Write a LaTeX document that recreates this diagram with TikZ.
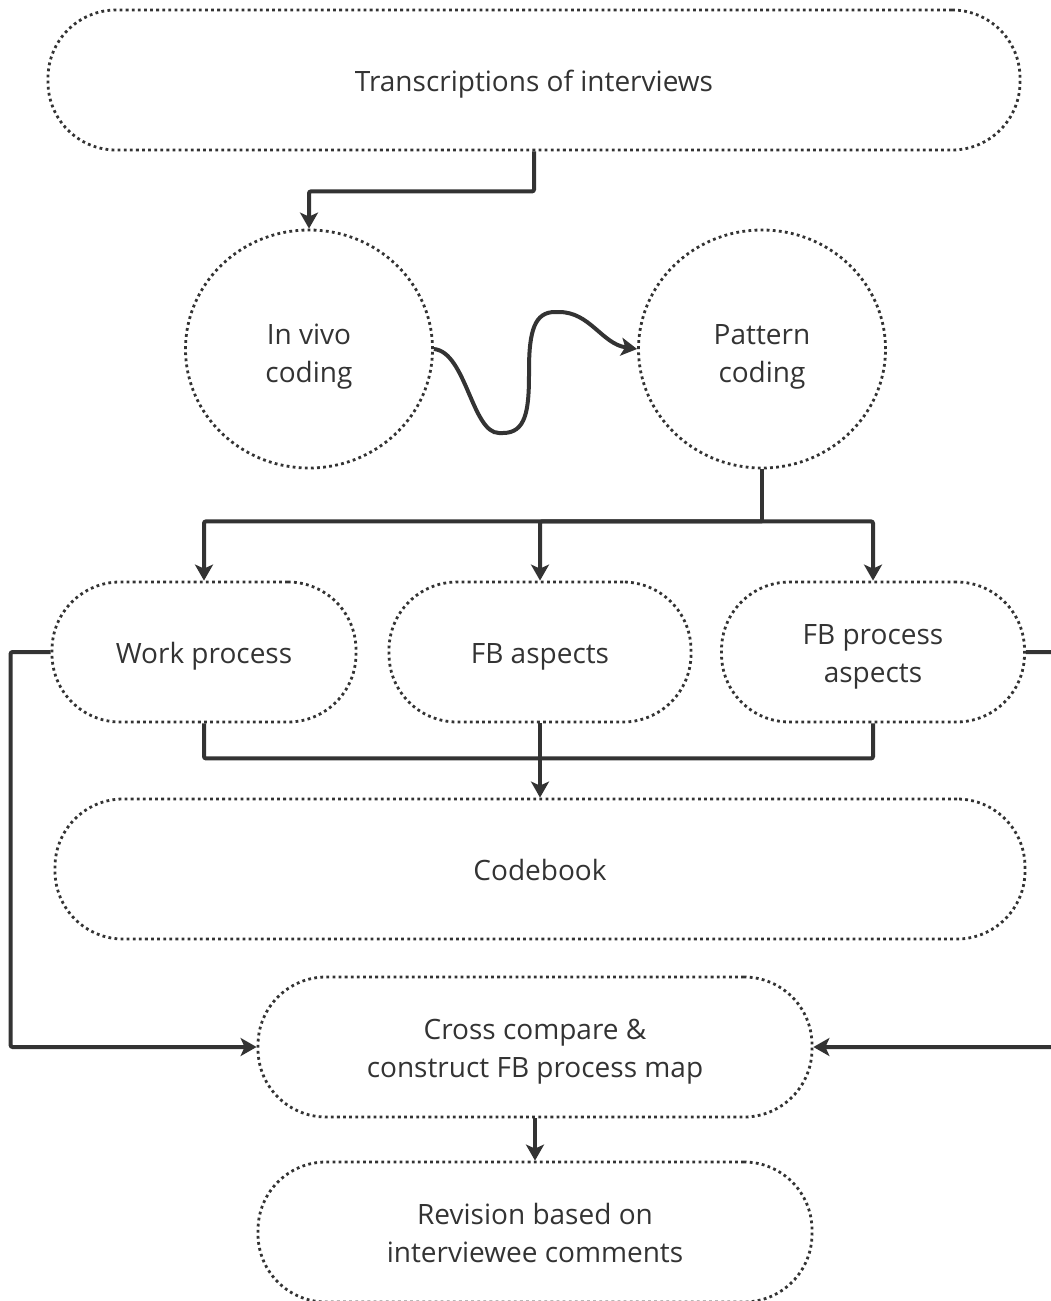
\documentclass[tikz,border=0pt]{standalone}
\usepackage{fontspec}
\setmainfont{Open Sans}
\usetikzlibrary{shapes.geometric,arrows.meta}
\definecolor{ink}{HTML}{333333}
% centred lines of text, set slightly below the optical middle of their box
\newcommand\boxtext[2][4pt]{\raisebox{-#1}[\height][\depth]{\begin{tabular}{@{}c@{}}#2\end{tabular}}}
\begin{document}
\begin{tikzpicture}[x=1pt,y=-1pt,
  font=\fontsize{28}{38}\selectfont, text=ink,
  every node/.style={inner sep=0pt},
  outline/.style={draw=ink, line width=2.8pt, dash pattern=on 2.8pt off 3.3pt},
  stadium/.style={outline, rounded corners=68pt, minimum height=140pt},
  bubble/.style={outline, ellipse, minimum width=247pt, minimum height=238pt},
  wire/.style={draw=ink, line width=4pt, rounded corners=2pt},
  link/.style={wire, -{Stealth[length=16pt, width=18pt, inset=4pt]}}
]
\useasboundingbox (0,0) rectangle (1050,1301);

% boxes
\node[stadium, minimum width=972pt] (trans) at (534,80) {\boxtext{Transcriptions of interviews}};
\node[bubble] (vivo) at (309,349) {\boxtext[7pt]{In vivo\\coding}};
\node[bubble] (pattern) at (762,349) {\boxtext[7pt]{Pattern\\coding}};
\node[stadium, minimum width=304pt] (work) at (204,652) {\boxtext{Work process}};
\node[stadium, minimum width=302pt] (fba) at (540,652) {\boxtext{FB aspects}};
\node[stadium, minimum width=303pt] (fbp) at (873,652) {\boxtext{FB process\\aspects}};
\node[stadium, minimum width=970pt] (code) at (540,869) {\boxtext{Codebook}};
\node[stadium, minimum width=554pt] (cross) at (535,1047) {\boxtext{Cross compare \&\\construct FB process map}};
\node[stadium, minimum width=554pt] (rev) at (535,1232) {\boxtext[4pt]{Revision based on\\interviewee comments}};

% transcriptions to in vivo coding
\draw[link] (trans.south) -- ++(0,40) -| (vivo.north);

% wavy hand-over between the two coding rounds
\draw[link] (vivo.east) .. controls (466,352) and (472,433) .. (501,433)
  .. controls (526,433) and (529,410) .. (529,372)
  .. controls (529,330) and (535,312) .. (557,312)
  .. controls (590,312) and (602,344) .. (pattern.west);

% pattern coding splits into three themes
\draw[wire] (pattern.south) -- ++(0,52) coordinate (hub);
\draw[link] (hub) -| (work.north);
\draw[link] (hub) -| (fba.north);
\draw[link] (hub) -| (fbp.north);

% themes merge into the codebook
\draw[wire] (work.south) -- ++(0,35) -| (fbp.south);
\draw[link] (fba.south) -- (code.north);

% side feeds into the cross comparison
\draw[link] (work.west) -- ++(-40,0) |- (cross.west);
\draw[link] (fbp.east) -- ++(30,0) |- (cross.east);

% revision
\draw[link] (cross.south) -- (rev.north);
\end{tikzpicture}
\end{document}
